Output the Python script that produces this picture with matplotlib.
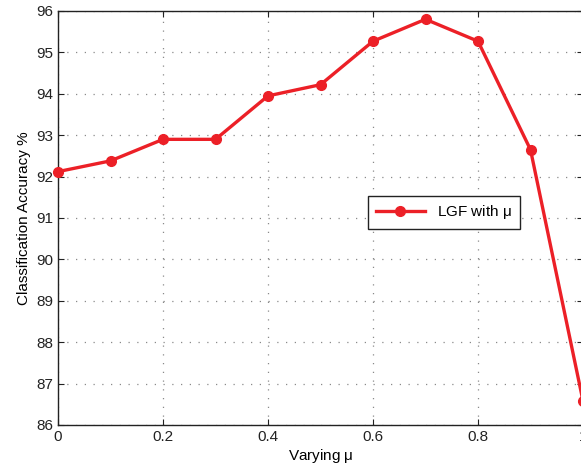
import numpy as np
import matplotlib
matplotlib.use("Agg")
import matplotlib.pyplot as plt

# data
mu = [0.0, 0.1, 0.2, 0.3, 0.4, 0.5, 0.6, 0.7, 0.8, 0.9, 1.0]
accuracy = [92.12, 92.38, 92.90, 92.90, 93.95, 94.22, 95.27, 95.80, 95.27, 92.65, 86.58]
xticks = [0, 0.2, 0.4, 0.6, 0.8, 1]
yticks = list(range(86, 97))

plt.rcParams['font.family'] = ['Liberation Sans', 'DejaVu Sans']

fig = plt.figure(figsize=(5.81, 4.72), dpi=100)
W, H = 581.0, 472.0
# axes runs a bit past the right edge of the picture (reference is cropped)
ax = fig.add_axes([58 / W, (H - 425) / H, 525 / W, 414 / H])

ax.plot(mu, accuracy, color='#EC2027', lw=2.4, marker='o', ms=7,
        label=r'LGF with $\mathregular{\mu}$', clip_on=False, zorder=3)

ax.set_xlim(0, 1)
ax.set_ylim(86, 96)
ax.set_xticks(xticks)
ax.set_xticklabels(['0', '0.2', '0.4', '0.6', '0.8', '1'])
ax.set_yticks(yticks)
ax.tick_params(direction='in', length=4, labelsize=11, colors='#222222', top=True, right=True)
ax.grid(True, linestyle=(0, (1, 6)), color='#8a8a8a', linewidth=0.9)
for s in ax.spines.values():
    s.set_color('#222222')
    s.set_linewidth(1.0)

ax.set_xlabel(r'Varying $\mathregular{\mu}$', fontsize=11, labelpad=2)
ax.set_ylabel('Classification Accuracy %', fontsize=11, labelpad=4)

leg = ax.legend(loc='center', bbox_to_anchor=(0.735, 0.514), fontsize=11,
                fancybox=False, framealpha=1, edgecolor='#222222',
                handlelength=3.2, borderpad=0.5)
leg.get_frame().set_linewidth(1.0)

fig.savefig('out.png', dpi=100)
